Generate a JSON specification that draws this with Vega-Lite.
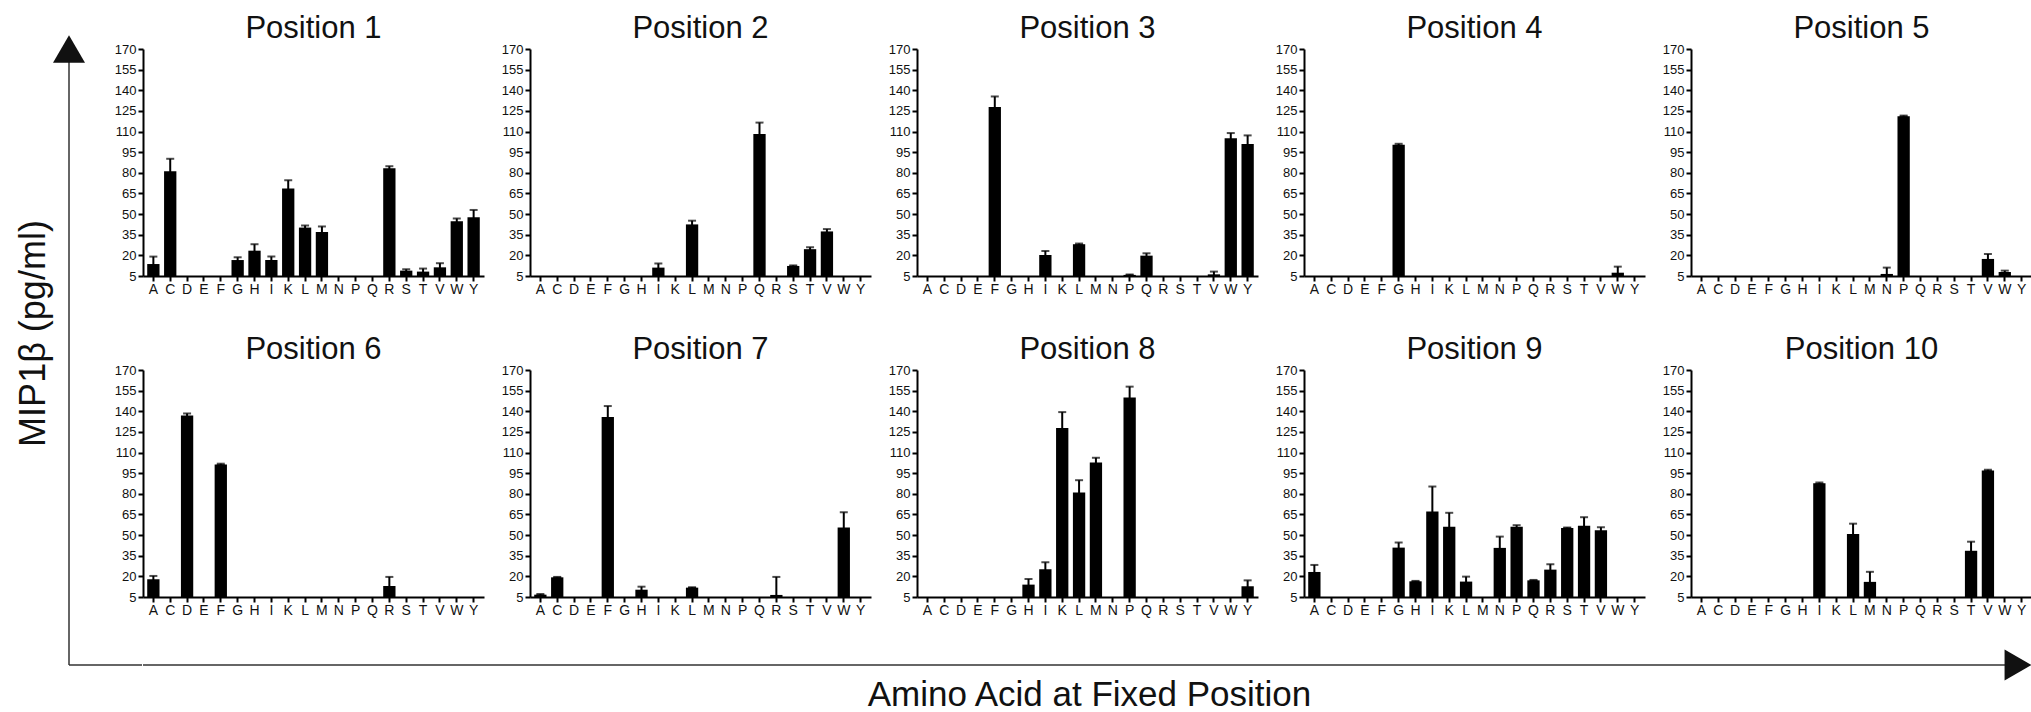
{
  "$schema": "https://vega.github.io/schema/vega-lite/v6.json",
  "background": "white",
  "padding": {"left": 15, "top": 13, "right": 0, "bottom": 0},
  "config": {"font": "Liberation Sans", "view": {"stroke": null}, "axis": {"grid": false}},
  "datasets": {
    "mip": [
      {"pos": 1, "aa": "A", "value": 13.7, "sem": 5.4}, {"pos": 1, "aa": "C", "value": 81.2, "sem": 9}, {"pos": 1, "aa": "D", "value": 5}, {"pos": 1, "aa": "E", "value": 5}, {"pos": 1, "aa": "F", "value": 5},
      {"pos": 1, "aa": "G", "value": 16.6, "sem": 2}, {"pos": 1, "aa": "H", "value": 23.4, "sem": 4.7}, {"pos": 1, "aa": "I", "value": 16.6, "sem": 2.5}, {"pos": 1, "aa": "K", "value": 68.6, "sem": 6}, {"pos": 1, "aa": "L", "value": 40.2, "sem": 1.5},
      {"pos": 1, "aa": "M", "value": 37, "sem": 4}, {"pos": 1, "aa": "N", "value": 5}, {"pos": 1, "aa": "P", "value": 5}, {"pos": 1, "aa": "Q", "value": 5}, {"pos": 1, "aa": "R", "value": 83.4, "sem": 1.4},
      {"pos": 1, "aa": "S", "value": 8.9, "sem": 1}, {"pos": 1, "aa": "T", "value": 8.2, "sem": 2.2}, {"pos": 1, "aa": "V", "value": 11.3, "sem": 3}, {"pos": 1, "aa": "W", "value": 44.8, "sem": 2}, {"pos": 1, "aa": "Y", "value": 47.7, "sem": 5.3},

      {"pos": 2, "aa": "A", "value": 5}, {"pos": 2, "aa": "C", "value": 5}, {"pos": 2, "aa": "D", "value": 5}, {"pos": 2, "aa": "E", "value": 5}, {"pos": 2, "aa": "F", "value": 5},
      {"pos": 2, "aa": "G", "value": 5}, {"pos": 2, "aa": "H", "value": 5}, {"pos": 2, "aa": "I", "value": 11.1, "sem": 3}, {"pos": 2, "aa": "K", "value": 5}, {"pos": 2, "aa": "L", "value": 42.5, "sem": 2.7},
      {"pos": 2, "aa": "M", "value": 5}, {"pos": 2, "aa": "N", "value": 5}, {"pos": 2, "aa": "P", "value": 5}, {"pos": 2, "aa": "Q", "value": 108.2, "sem": 8.3}, {"pos": 2, "aa": "R", "value": 5},
      {"pos": 2, "aa": "S", "value": 12.3, "sem": 0.4}, {"pos": 2, "aa": "T", "value": 24.5, "sem": 1.4}, {"pos": 2, "aa": "V", "value": 37.4, "sem": 1.7}, {"pos": 2, "aa": "W", "value": 5}, {"pos": 2, "aa": "Y", "value": 5},

      {"pos": 3, "aa": "A", "value": 5}, {"pos": 3, "aa": "C", "value": 5}, {"pos": 3, "aa": "D", "value": 5}, {"pos": 3, "aa": "E", "value": 5}, {"pos": 3, "aa": "F", "value": 127.8, "sem": 7.7},
      {"pos": 3, "aa": "G", "value": 5}, {"pos": 3, "aa": "H", "value": 5}, {"pos": 3, "aa": "I", "value": 20.3, "sem": 2.9}, {"pos": 3, "aa": "K", "value": 5}, {"pos": 3, "aa": "L", "value": 28.1, "sem": 0.5},
      {"pos": 3, "aa": "M", "value": 5}, {"pos": 3, "aa": "N", "value": 5}, {"pos": 3, "aa": "P", "value": 5.8, "sem": 0.3}, {"pos": 3, "aa": "Q", "value": 19.8, "sem": 1.7}, {"pos": 3, "aa": "R", "value": 5},
      {"pos": 3, "aa": "S", "value": 5}, {"pos": 3, "aa": "T", "value": 5}, {"pos": 3, "aa": "V", "value": 6.2, "sem": 2}, {"pos": 3, "aa": "W", "value": 105.2, "sem": 3.7}, {"pos": 3, "aa": "Y", "value": 100.9, "sem": 6.3},

      {"pos": 4, "aa": "A", "value": 5}, {"pos": 4, "aa": "C", "value": 5}, {"pos": 4, "aa": "D", "value": 5}, {"pos": 4, "aa": "E", "value": 5}, {"pos": 4, "aa": "F", "value": 5},
      {"pos": 4, "aa": "G", "value": 100.4, "sem": 0.7}, {"pos": 4, "aa": "H", "value": 5}, {"pos": 4, "aa": "I", "value": 5}, {"pos": 4, "aa": "K", "value": 5}, {"pos": 4, "aa": "L", "value": 5},
      {"pos": 4, "aa": "M", "value": 5}, {"pos": 4, "aa": "N", "value": 5}, {"pos": 4, "aa": "P", "value": 5}, {"pos": 4, "aa": "Q", "value": 5}, {"pos": 4, "aa": "R", "value": 5},
      {"pos": 4, "aa": "S", "value": 5}, {"pos": 4, "aa": "T", "value": 5}, {"pos": 4, "aa": "V", "value": 5}, {"pos": 4, "aa": "W", "value": 7.4, "sem": 4.4}, {"pos": 4, "aa": "Y", "value": 5},

      {"pos": 5, "aa": "A", "value": 5}, {"pos": 5, "aa": "C", "value": 5}, {"pos": 5, "aa": "D", "value": 5}, {"pos": 5, "aa": "E", "value": 5}, {"pos": 5, "aa": "F", "value": 5},
      {"pos": 5, "aa": "G", "value": 5}, {"pos": 5, "aa": "H", "value": 5}, {"pos": 5, "aa": "I", "value": 5}, {"pos": 5, "aa": "K", "value": 5}, {"pos": 5, "aa": "L", "value": 5},
      {"pos": 5, "aa": "M", "value": 5}, {"pos": 5, "aa": "N", "value": 6.5, "sem": 4.6}, {"pos": 5, "aa": "P", "value": 121.2, "sem": 0.4}, {"pos": 5, "aa": "Q", "value": 5}, {"pos": 5, "aa": "R", "value": 5},
      {"pos": 5, "aa": "S", "value": 5}, {"pos": 5, "aa": "T", "value": 5}, {"pos": 5, "aa": "V", "value": 17.4, "sem": 3.6}, {"pos": 5, "aa": "W", "value": 7.9, "sem": 1}, {"pos": 5, "aa": "Y", "value": 5},

      {"pos": 6, "aa": "A", "value": 17.9, "sem": 2.4}, {"pos": 6, "aa": "C", "value": 5}, {"pos": 6, "aa": "D", "value": 136.9, "sem": 1.5}, {"pos": 6, "aa": "E", "value": 5}, {"pos": 6, "aa": "F", "value": 101.4, "sem": 0.5},
      {"pos": 6, "aa": "G", "value": 5}, {"pos": 6, "aa": "H", "value": 5}, {"pos": 6, "aa": "I", "value": 5}, {"pos": 6, "aa": "K", "value": 5}, {"pos": 6, "aa": "L", "value": 5},
      {"pos": 6, "aa": "M", "value": 5}, {"pos": 6, "aa": "N", "value": 5}, {"pos": 6, "aa": "P", "value": 5}, {"pos": 6, "aa": "Q", "value": 5}, {"pos": 6, "aa": "R", "value": 13, "sem": 6.6},
      {"pos": 6, "aa": "S", "value": 5}, {"pos": 6, "aa": "T", "value": 5}, {"pos": 6, "aa": "V", "value": 5}, {"pos": 6, "aa": "W", "value": 5}, {"pos": 6, "aa": "Y", "value": 5},

      {"pos": 7, "aa": "A", "value": 6.7, "sem": 0.5}, {"pos": 7, "aa": "C", "value": 19.3, "sem": 0.3}, {"pos": 7, "aa": "D", "value": 5}, {"pos": 7, "aa": "E", "value": 5}, {"pos": 7, "aa": "F", "value": 135.8, "sem": 8},
      {"pos": 7, "aa": "G", "value": 5}, {"pos": 7, "aa": "H", "value": 10.3, "sem": 2.2}, {"pos": 7, "aa": "I", "value": 5}, {"pos": 7, "aa": "K", "value": 5}, {"pos": 7, "aa": "L", "value": 11.8, "sem": 0.3},
      {"pos": 7, "aa": "M", "value": 5}, {"pos": 7, "aa": "N", "value": 5}, {"pos": 7, "aa": "P", "value": 5}, {"pos": 7, "aa": "Q", "value": 5}, {"pos": 7, "aa": "R", "value": 6.5, "sem": 13.1},
      {"pos": 7, "aa": "S", "value": 5}, {"pos": 7, "aa": "T", "value": 5}, {"pos": 7, "aa": "V", "value": 5}, {"pos": 7, "aa": "W", "value": 55.5, "sem": 11.1}, {"pos": 7, "aa": "Y", "value": 5},

      {"pos": 8, "aa": "A", "value": 5}, {"pos": 8, "aa": "C", "value": 5}, {"pos": 8, "aa": "D", "value": 5}, {"pos": 8, "aa": "E", "value": 5}, {"pos": 8, "aa": "F", "value": 5},
      {"pos": 8, "aa": "G", "value": 5}, {"pos": 8, "aa": "H", "value": 14, "sem": 4.1}, {"pos": 8, "aa": "I", "value": 25.1, "sem": 5.1}, {"pos": 8, "aa": "K", "value": 127.8, "sem": 11.6}, {"pos": 8, "aa": "L", "value": 81, "sem": 8.9},
      {"pos": 8, "aa": "M", "value": 102.8, "sem": 3.4}, {"pos": 8, "aa": "N", "value": 5}, {"pos": 8, "aa": "P", "value": 150.1, "sem": 7.8}, {"pos": 8, "aa": "Q", "value": 5}, {"pos": 8, "aa": "R", "value": 5},
      {"pos": 8, "aa": "S", "value": 5}, {"pos": 8, "aa": "T", "value": 5}, {"pos": 8, "aa": "V", "value": 5}, {"pos": 8, "aa": "W", "value": 5}, {"pos": 8, "aa": "Y", "value": 12.8, "sem": 4.3},

      {"pos": 9, "aa": "A", "value": 23.2, "sem": 5.1}, {"pos": 9, "aa": "C", "value": 5}, {"pos": 9, "aa": "D", "value": 5}, {"pos": 9, "aa": "E", "value": 5}, {"pos": 9, "aa": "F", "value": 5},
      {"pos": 9, "aa": "G", "value": 40.9, "sem": 3.7}, {"pos": 9, "aa": "H", "value": 16.4, "sem": 0.3}, {"pos": 9, "aa": "I", "value": 67.1, "sem": 18.2}, {"pos": 9, "aa": "K", "value": 56, "sem": 10.2}, {"pos": 9, "aa": "L", "value": 16.2, "sem": 3.6},
      {"pos": 9, "aa": "M", "value": 5}, {"pos": 9, "aa": "N", "value": 40.7, "sem": 8.2}, {"pos": 9, "aa": "P", "value": 56, "sem": 1.2}, {"pos": 9, "aa": "Q", "value": 17.1, "sem": 0.3}, {"pos": 9, "aa": "R", "value": 24.9, "sem": 3.9},
      {"pos": 9, "aa": "S", "value": 55.2, "sem": 0.3}, {"pos": 9, "aa": "T", "value": 56.7, "sem": 6.3}, {"pos": 9, "aa": "V", "value": 53.5, "sem": 2.2}, {"pos": 9, "aa": "W", "value": 5}, {"pos": 9, "aa": "Y", "value": 5},

      {"pos": 10, "aa": "A", "value": 5}, {"pos": 10, "aa": "C", "value": 5}, {"pos": 10, "aa": "D", "value": 5}, {"pos": 10, "aa": "E", "value": 5}, {"pos": 10, "aa": "F", "value": 5},
      {"pos": 10, "aa": "G", "value": 5}, {"pos": 10, "aa": "H", "value": 5}, {"pos": 10, "aa": "I", "value": 87.7, "sem": 0.5}, {"pos": 10, "aa": "K", "value": 5}, {"pos": 10, "aa": "L", "value": 50.8, "sem": 7.5},
      {"pos": 10, "aa": "M", "value": 16, "sem": 7.3}, {"pos": 10, "aa": "N", "value": 5}, {"pos": 10, "aa": "P", "value": 5}, {"pos": 10, "aa": "Q", "value": 5}, {"pos": 10, "aa": "R", "value": 5},
      {"pos": 10, "aa": "S", "value": 5}, {"pos": 10, "aa": "T", "value": 38.6, "sem": 6.6}, {"pos": 10, "aa": "V", "value": 97, "sem": 0.5}, {"pos": 10, "aa": "W", "value": 5}, {"pos": 10, "aa": "Y", "value": 5}
    ]
  },
  "spacing": -29,
  "hconcat": [
    {
      "width": 73,
      "height": 616,
      "data": {"values": [{}]},
      "layer": [
        {
          "mark": {"type": "rule", "color": "#333", "strokeWidth": 1.5},
          "encoding": {
            "x": {"datum": 0, "type": "quantitative", "scale": {"domain": [0, 1]}, "axis": null},
            "y": {"datum": 0, "type": "quantitative", "scale": {"domain": [0, 1]},
                  "axis": {"title": "MIP1β (pg/ml)", "domain": false, "ticks": false, "labels": false, "grid": false,
                           "titleFontSize": 36, "titleFontWeight": "normal", "titlePadding": 17, "titleColor": "#111", "titleY": 284}},
            "y2": {"datum": 1}
          }
        },
        {
          "mark": {"type": "rule", "color": "#333", "strokeWidth": 1.5},
          "encoding": {
            "x": {"datum": 0, "type": "quantitative", "axis": null},
            "x2": {"datum": 1},
            "y": {"datum": 0, "type": "quantitative",
                  "axis": {"title": "MIP1β (pg/ml)", "domain": false, "ticks": false, "labels": false, "grid": false,
                           "titleFontSize": 36, "titleFontWeight": "normal", "titlePadding": 17, "titleColor": "#111", "titleY": 284}}
          }
        },
        {
          "mark": {"type": "point", "shape": "triangle-up", "size": 1024, "filled": true, "opacity": 1, "color": "#111"},
          "encoding": {
            "x": {"datum": 0, "type": "quantitative", "axis": null},
            "y": {"datum": 1, "type": "quantitative",
                  "axis": {"title": "MIP1β (pg/ml)", "domain": false, "ticks": false, "labels": false, "grid": false,
                           "titleFontSize": 36, "titleFontWeight": "normal", "titlePadding": 17, "titleColor": "#111", "titleY": 284}}
          }
        }
      ]
    },
    {
      "spacing": 0,
      "vconcat": [
        {
          "data": {"name": "mip"},
          "columns": 5,
          "spacing": {"row": 38, "column": 17},
          "facet": {
            "field": "pos",
            "type": "ordinal",
            "header": {"title": null, "labelExpr": "'Position ' + datum.value", "labelFontSize": 31,
                       "labelColor": "#111", "labelPadding": -2}
          },
          "resolve": {"axis": {"x": "independent", "y": "independent"}},
          "spec": {
            "width": 341,
            "height": 227,
            "encoding": {
              "x": {
                "field": "aa", "type": "nominal", "sort": null,
                "scale": {"domain": ["A","C","D","E","F","G","H","I","K","L","M","N","P","Q","R","S","T","V","W","Y"],
                          "paddingInner": 0.27, "paddingOuter": 0.25},
                "axis": {"title": null, "labelAngle": 0, "labelFontSize": 14, "labelColor": "#111", "labelPadding": 1,
                         "tickSize": 5, "tickWidth": 2, "tickColor": "#000", "domainWidth": 2, "domainColor": "#000"}
              }
            },
            "layer": [
              {
                "mark": {"type": "bar", "color": "#000"},
                "encoding": {
                  "y": {"field": "value", "type": "quantitative",
                        "scale": {"domain": [5, 170], "clamp": true, "nice": false, "zero": false},
                        "axis": {"title": null, "values": [5,20,35,50,65,80,95,110,125,140,155,170],
                                 "labelFontSize": 13, "labelColor": "#111", "labelPadding": 2,
                                 "tickSize": 5, "tickWidth": 2, "tickColor": "#000",
                                 "domainWidth": 2, "domainColor": "#000", "grid": false}},
                  "y2": {"datum": 5}
                }
              },
              {
                "transform": [{"filter": "isValid(datum.sem)"}],
                "mark": {"type": "errorbar", "ticks": true, "size": 8, "thickness": 2, "color": "#000"},
                "encoding": {
                  "y": {"field": "value", "type": "quantitative",
                        "axis": {"title": null, "values": [5,20,35,50,65,80,95,110,125,140,155,170],
                                 "labelFontSize": 13, "labelColor": "#111", "labelPadding": 2,
                                 "tickSize": 5, "tickWidth": 2, "tickColor": "#000",
                                 "domainWidth": 2, "domainColor": "#000", "grid": false}},
                  "yError": {"field": "sem"}
                }
              }
            ]
          }
        },
        {
          "width": 1875,
          "height": 48,
          "data": {"values": [{}]},
          "layer": [
            {
              "mark": {"type": "rule", "color": "#333", "strokeWidth": 1.5},
              "encoding": {
                "x": {"datum": 0, "type": "quantitative", "scale": {"domain": [0, 1]},
                      "axis": {"title": "Amino Acid at Fixed Position", "domain": false, "ticks": false, "labels": false, "grid": false,
                               "titleFontSize": 35, "titleFontWeight": "normal", "titlePadding": 12, "titleColor": "#111", "titleX": 946}},
                "x2": {"datum": 1},
                "y": {"datum": 0, "type": "quantitative", "scale": {"domain": [0, 1]}, "axis": null}
              }
            },
            {
              "mark": {"type": "point", "shape": "triangle-right", "size": 961, "filled": true, "opacity": 1, "color": "#111"},
              "encoding": {
                "x": {"datum": 1, "type": "quantitative",
                      "axis": {"title": "Amino Acid at Fixed Position", "domain": false, "ticks": false, "labels": false, "grid": false,
                               "titleFontSize": 35, "titleFontWeight": "normal", "titlePadding": 12, "titleColor": "#111", "titleX": 946}},
                "y": {"datum": 0, "type": "quantitative", "axis": null}
              }
            }
          ]
        }
      ]
    }
  ]
}
